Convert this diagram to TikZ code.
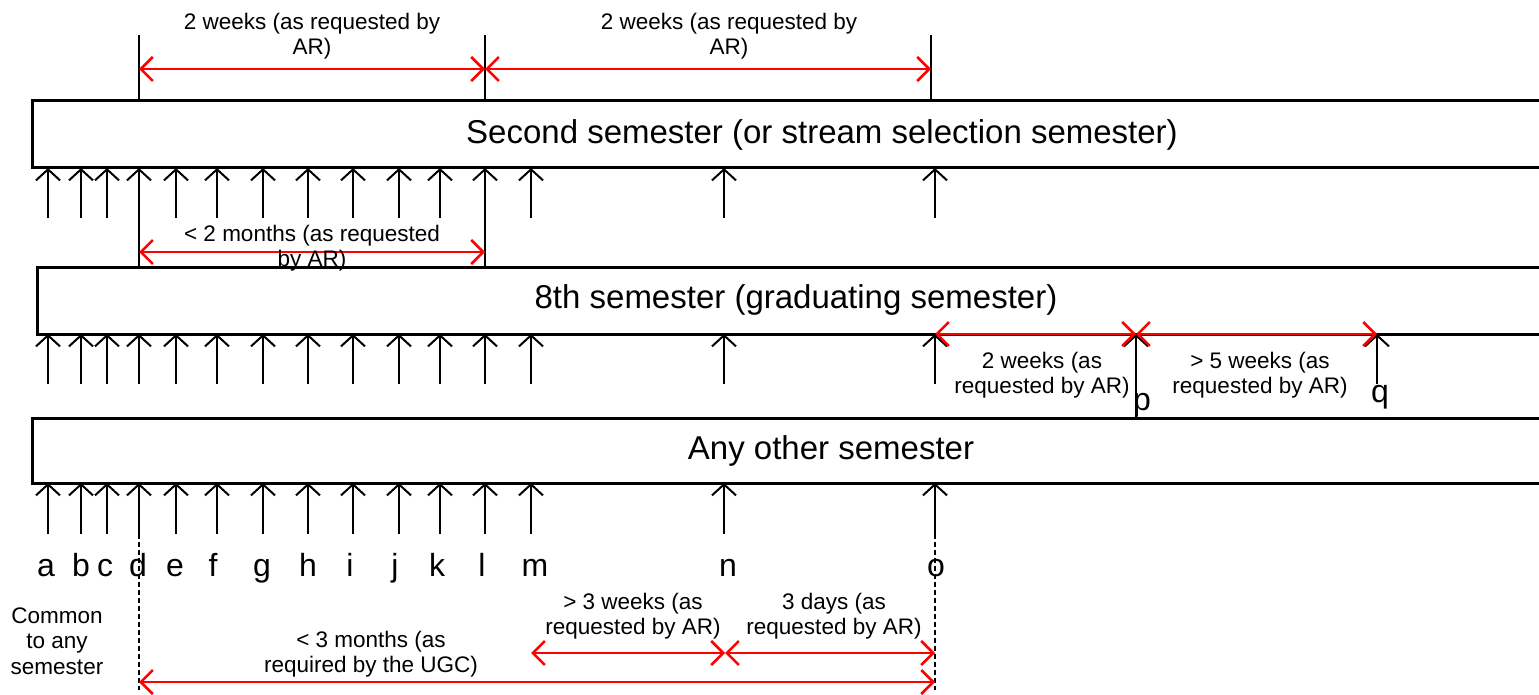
\documentclass[tikz,border=0pt]{standalone}
\usepackage{fontspec}
\setmainfont{Liberation Sans}
\usetikzlibrary{arrows.meta}
\tikzset{
  barline/.style={line width=3pt},
  tick/.style={line width=2pt, -{Straight Barb[length=11pt,width=24pt]}},
  span/.style={line width=2.5pt, red,
    {Straight Barb[length=12pt,width=24pt]}-{Straight Barb[length=12pt,width=24pt]}},
  guide/.style={line width=2pt},
  dashguide/.style={line width=1.5pt, dash pattern=on 5pt off 3pt},
  bartext/.style={font=\fontsize{33}{38}\selectfont, inner sep=0pt},
  note/.style={font=\fontsize{22.5}{25.5}\selectfont, align=center, inner sep=0pt},
  letter/.style={font=\fontsize{32}{36}\selectfont, anchor=base, inner sep=0pt},
}
\begin{document}
\begin{tikzpicture}[x=1pt, y=-1pt]
\useasboundingbox (0,0) rectangle (1539,695);

% ---- semester bars (open on the right) ----
\coordinate (s1tl) at (1539,101); \coordinate (s1bl) at (1539,168);
\draw[barline] (s1tl) -- (32,101) -- (32,168) -- (s1bl);
\node[bartext] (sem2) at (822,135) {Second semester (or stream selection semester)};

\coordinate (s2tl) at (1539,267); \coordinate (s2bl) at (1539,334);
\draw[barline] (s2tl) -- (37,267) -- (37,334) -- (s2bl);
\node[bartext] (sem8) at (796,300) {8th semester (graduating semester)};

\coordinate (s3tl) at (1539,418); \coordinate (s3bl) at (1539,483);
\draw[barline] (s3tl) -- (32,418) -- (32,483) -- (s3bl);
\node[bartext] (semany) at (831,451) {Any other semester};

% ---- event ticks under each bar ----
\foreach \n/\x/\e in {a/48/218,b/81/218,c/107/218,d/139/267,e/176/218,f/217/218,
    g/263/218,h/308/218,i/353/218,j/399/218,k/440/218,l/485/267,m/531/218,
    n/724/218,o/935/218}{
  \coordinate (t1\n) at (\x,168);
  \coordinate (b1\n) at (\x,\e);
  \draw[tick] (b1\n) -- (t1\n);
}
\foreach \n/\x in {a/48,b/81,c/107,d/139,e/176,f/217,g/263,h/308,i/353,j/399,
    k/440,l/485,m/531,n/724,o/935}{
  \coordinate (t2\n) at (\x,334);
  \coordinate (b2\n) at (\x,384);
  \draw[tick] (b2\n) -- (t2\n);
  \coordinate (t3\n) at (\x,483);
  \coordinate (b3\n) at (\x,534);
  \draw[tick] (b3\n) -- (t3\n);
}
\coordinate (t2p) at (1136,334); \coordinate (b2p) at (1136,418);
\coordinate (t2q) at (1377,334); \coordinate (b2q) at (1377,384);
\draw[tick] (b2p) -- (t2p);
\draw[tick] (b2q) -- (t2q);

% ---- event letters ----
\foreach \n/\x in {a/46,b/81,c/105,d/138,e/175,f/213,g/262,h/308,i/350,j/395,
    k/437,l/482,m/535,n/728,o/936}{
  \node[letter] (lab\n) at (\x,576) {\n};
}
\node[letter] (labp) at (1142,410) {p};
\node[letter] (labq) at (1380,402) {q};

% ---- guide lines ----
\coordinate (gd1) at (139,35);  \coordinate (gd2) at (139,101);
\coordinate (gl1) at (485,35);  \coordinate (gl2) at (485,101);
\coordinate (go1) at (931,35);  \coordinate (go2) at (931,101);
\draw[guide] (gd1) -- (gd2);
\draw[guide] (gl1) -- (gl2);
\draw[guide] (go1) -- (go2);
\coordinate (dd) at (139,690);
\coordinate (do) at (935,690);
\draw[dashguide] (b3d) -- (dd);
\draw[dashguide] (b3o) -- (do);

% ---- durations ----
\coordinate (r1d) at (139,69); \coordinate (r1l) at (485,69); \coordinate (r1o) at (931,69);
\draw[span] (r1d) -- (r1l);
\draw[span] (r1l) -- (r1o);
\node[note] (w1) at (312,36) {2 weeks (as requested by\\AR)};
\node[note] (w2) at (729,36) {2 weeks (as requested by\\AR)};

\coordinate (r2d) at (139,252); \coordinate (r2l) at (485,252);
\draw[span] (r2d) -- (r2l);
\node[note] (m2) at (312,248) {< 2 months (as requested\\by AR)};

\coordinate (r3o) at (935,334); \coordinate (r3p) at (1136,334); \coordinate (r3q) at (1377,334);
\draw[span] (r3o) -- (r3p);
\draw[span] (r3p) -- (r3q);
\node[note] (w3) at (1042,375) {2 weeks (as\\requested by AR)};
\node[note] (w5) at (1260,375) {> 5 weeks (as\\requested by AR)};

\coordinate (r4m) at (531,653); \coordinate (r4n) at (725,653); \coordinate (r4o) at (935,653);
\draw[span] (r4m) -- (r4n);
\draw[span] (r4n) -- (r4o);
\node[note] (w3b) at (633,616) {> 3 weeks (as\\requested by AR)};
\node[note] (d3) at (834,616) {3 days (as\\requested by AR)};

\coordinate (r5d) at (139,682); \coordinate (r5o) at (935,682);
\draw[span] (r5d) -- (r5o);
\node[note] (m3) at (371,654) {< 3 months (as\\required by the UGC)};

\node[note] (common) at (57,641) {Common\\to any\\semester};
\end{tikzpicture}
\end{document}
